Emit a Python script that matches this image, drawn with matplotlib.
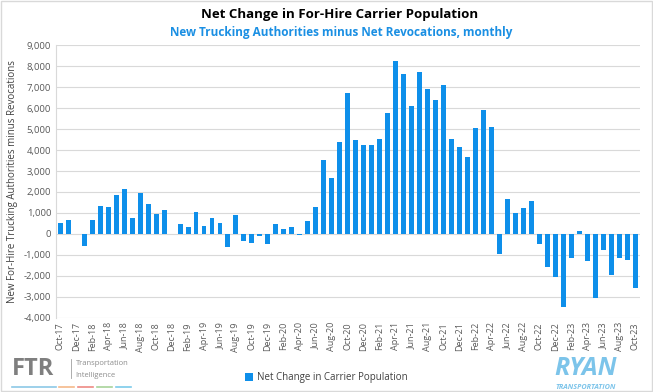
import numpy as np
import pandas as pd
import matplotlib.pyplot as plt
from matplotlib.patches import Rectangle

# monthly net change, Oct-17 .. Oct-23
months = pd.date_range('2017-10-01', '2023-10-01', freq='MS')
net_change = [
    530, 650, 0,
    -590, 670, 1350, 1290, 1870, 2150, 780, 1950, 1450, 970, 1130, -20,
    490, 340, 1030, 390, 760, 500, -640, 890, -350, -450, -110, -470,
    470, 250, 310, -60, 630, 1300, 3520, 2680, 4400, 6730, 4500, 4220,
    4220, 4510, 5760, 8250, 7600, 6120, 7710, 6890, 6400, 7110, 4540, 4140,
    3680, 5045, 5920, 5075, -940, 1650, 1015, 1250, 1585, -480, -1590, -2065,
    -3480, -1145, 150, -1300, -3065, -760, -1950, -1145, -1255, -2590,
]
labels = [m.strftime('%b-%y') for m in months]

bar_color = '#0E8FEA'
gray = '#595959'
plt.rcParams['font.family'] = ['Open Sans', 'DejaVu Sans']

fig = plt.figure(figsize=(6.53, 3.92), dpi=100)
ax = fig.add_axes([0.085, 0.189, 0.895, 0.696])

x = np.arange(len(net_change))
ax.bar(x, net_change, width=0.62, color=bar_color, zorder=3, label='Net Change in Carrier Population')

ax.set_xlim(-0.6, len(net_change) - 0.4)
ax.set_ylim(-4000, 9000)
ax.set_yticks(np.arange(-4000, 9001, 1000))
ax.set_yticklabels([f'{v:,}' for v in range(-4000, 9001, 1000)], fontsize=6.8, color=gray)
ax.set_xticks(x[::2])
ax.set_xticklabels(labels[::2], rotation=90, fontsize=6.5, color=gray)
ax.tick_params(length=0, pad=3)
ax.grid(axis='y', color='#D9D9D9', linewidth=0.8, zorder=0)
for s in ['top', 'right', 'bottom']:
    ax.spines[s].set_visible(False)
ax.spines['left'].set_color('#D9D9D9')

ax.set_ylabel('New For-Hire Trucking Authorities minus Revocations', fontsize=7, color='#404040', labelpad=4)

fig.text(0.520, 0.962, 'Net Change in For-Hire Carrier Population', ha='center', va='center',
         fontsize=9.5, fontweight='bold', color='black')
fig.text(0.523, 0.918, 'New Trucking Authorities minus Net Revocations, monthly', ha='center', va='center',
         fontsize=8.5, fontweight='bold', color='#1A8FE3')

leg = fig.legend(loc='center', bbox_to_anchor=(0.5, 0.036), frameon=False, fontsize=7,
                 handlelength=0.8, handleheight=0.8, handletextpad=0.4, labelcolor='#404040')

# logos
fig.text(0.018, 0.058, 'FTR', fontsize=17, fontweight='bold', color='#7F7F7F', va='center', ha='left')
fig.add_artist(plt.Line2D([0.108, 0.108], [0.035, 0.085], color='#A0A0A0', lw=0.6))
fig.text(0.116, 0.072, 'Transportation', fontsize=5.5, color='#8C8C8C', va='center')
fig.text(0.116, 0.043, 'Intelligence', fontsize=5.5, color='#8C8C8C', va='center')
for x0, x1, c in [(0.018, 0.085, '#8CC8E6'), (0.09, 0.113, '#F5B98A'), (0.119, 0.142, '#EE8A84'),
                  (0.148, 0.171, '#A8D39A'), (0.177, 0.2, '#7CCBEA')]:
    fig.add_artist(plt.Line2D([x0, x1], [0.013, 0.013], color=c, lw=1.2))
fig.text(0.897, 0.06, 'RYAN', fontsize=18, fontweight='bold', style='italic', color='#7CC4EA',
         va='center', ha='center')
fig.text(0.897, 0.012, 'TRANSPORTATION', fontsize=5.2, fontweight='bold', style='italic', color='#7CC4EA',
         va='center', ha='center')

fig.add_artist(Rectangle((0.002, 0.003), 0.996, 0.994, transform=fig.transFigure, fill=False,
                         edgecolor='#D9D9D9', lw=1))

fig.savefig('out.png', dpi=100)
